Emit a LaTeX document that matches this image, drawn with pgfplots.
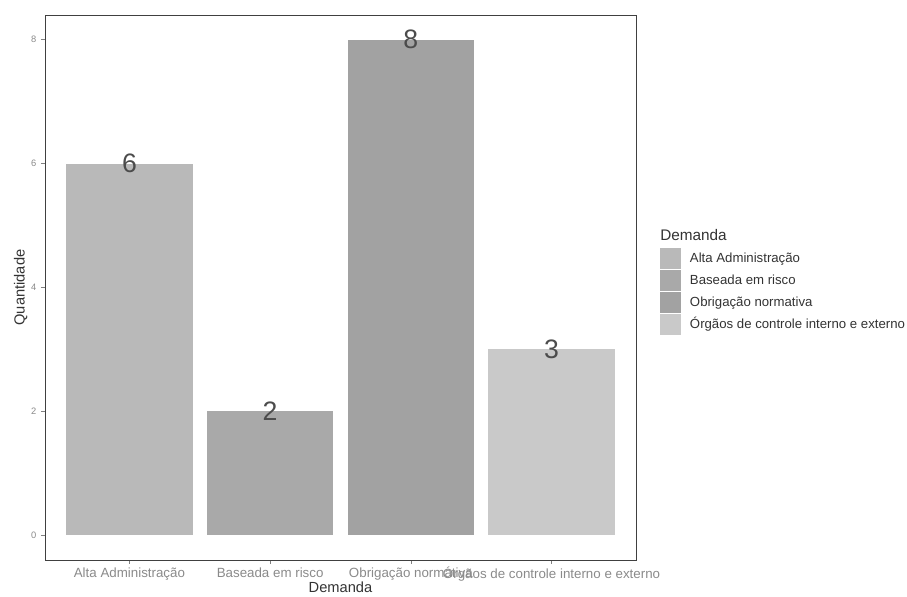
\documentclass[border=0pt]{standalone}
\usepackage{fontspec}
\setmainfont{Liberation Sans}
\usepackage{pgfplots}
\pgfplotsset{compat=1.18}
\definecolor{barA}{HTML}{B9B9B9}
\definecolor{barB}{HTML}{A9A9A9}
\definecolor{barC}{HTML}{A2A2A2}
\definecolor{barD}{HTML}{C9C9C9}
\definecolor{txt}{HTML}{8A8A8A}
\begin{document}
\begin{tikzpicture}
\begin{axis}[
  at={(0,0)}, anchor=south west,
  scale only axis,
  width=443.25pt, height=408.75pt,
  xmin=0.4, xmax=4.6, ymin=-0.4, ymax=8.4,
  ybar, bar width=0.9, bar shift=0pt,
  axis line style={draw=black!75, line width=0.5pt},
  xtick={1,2,3,4},
  xticklabels={Alta Administração, Baseada em risco, Obrigação normativa, Órgãos de controle interno e externo},
  ytick={0,2,4,6,8},
  tick align=outside, major tick length=3pt,
  tick style={draw=black!50, line width=0.5pt},
  xtick pos=bottom, ytick pos=left,
  x tick label style={font=\fontsize{10}{12}\selectfont, text=txt, yshift=1pt},
  y tick label style={font=\fontsize{7}{8}\selectfont, text=txt},
  /pgf/number format/assume math mode=true,
  xlabel={Demanda}, ylabel={Quantidade},
  xlabel style={font=\fontsize{11}{13}\selectfont, text=black!80, yshift=7pt},
  ylabel style={font=\fontsize{11}{13}\selectfont, text=black!80, yshift=-4pt},
  nodes near coords,
  every node near coord/.append style={anchor=center, font=\fontsize{20}{22}\selectfont, text=black!70},
  legend cell align=left,
  legend style={at={(1.0406,0.572)}, anchor=north west, draw=none, fill=none,
    inner sep=0pt, outer sep=0pt,
    font=\fontsize{9.9}{12}\selectfont, text=black!80, row sep=0.9pt,
    nodes={inner sep=1pt, text height=8pt, text depth=2pt},
    /tikz/every odd column/.append style={column sep=5.5pt}},
  legend image code/.code={\fill[#1,draw=none] (0pt,-7.8pt) rectangle (16pt,7.8pt);},
  clip=false,
]
\addplot[fill=barA, draw=none] coordinates {(1,6)};
\addplot[fill=barB, draw=none] coordinates {(2,2)};
\addplot[fill=barC, draw=none] coordinates {(3,8)};
\addplot[fill=barD, draw=none] coordinates {(4,3)};
\legend{Alta Administração, Baseada em risco, Obrigação normativa, Órgãos de controle interno e externo}
\node[anchor=south west, font=\fontsize{11.5}{13}\selectfont, text=black!80, inner sep=0pt] at (rel axis cs:1.0406,0.586) {Demanda};
\end{axis}
\path[use as bounding box] (-33.75pt,-25.5pt) rectangle (646.5pt,420pt);
\end{tikzpicture}
\end{document}
